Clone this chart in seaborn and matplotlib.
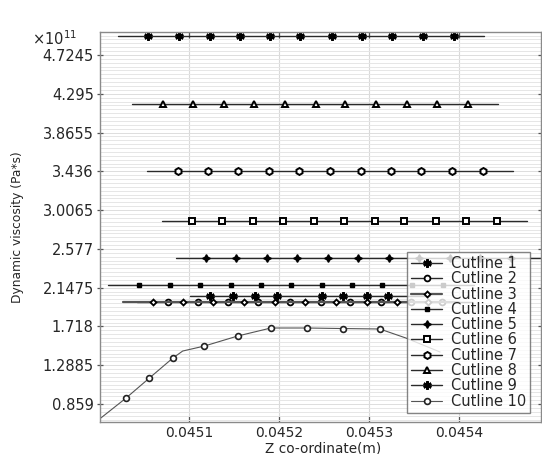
import numpy as np
import pandas as pd
import matplotlib
matplotlib.use("Agg")
import matplotlib.pyplot as plt
import seaborn as sns
from matplotlib.ticker import FixedLocator, MultipleLocator

# ---------------- data (x in m, y in 1e11 Pa*s) ----------------
labels = ["Cutline 1", "Cutline 2", "Cutline 3", "Cutline 4", "Cutline 5",
          "Cutline 6", "Cutline 7", "Cutline 8", "Cutline 9", "Cutline 10"]

c1_x = [0.045101, 0.045123, 0.045149, 0.045173, 0.045198, 0.045248, 0.045271,
        0.045298, 0.045321, 0.045368]
c1_y = [2.058] * len(c1_x)

c2_x = [0.045042, 0.045077, 0.045110, 0.045143, 0.045177, 0.045212, 0.045247,
        0.045279, 0.045313, 0.045347, 0.045381, 0.045414]
c2_y = [1.987] * len(c2_x)

c3_x = [0.045027, 0.045060, 0.045093, 0.045127, 0.045161, 0.045196, 0.045229,
        0.045263, 0.045298, 0.045331, 0.045366, 0.045399]
c3_y = [1.990] * len(c3_x)

c4_x = [0.045010, 0.045044, 0.045079, 0.045112, 0.045147, 0.045180, 0.045213,
        0.045248, 0.045281, 0.045314, 0.045348, 0.045382, 0.045417]
c4_y = [2.180] * len(c4_x)

c5_x = [0.045086, 0.045119, 0.045152, 0.045187, 0.045220, 0.045254, 0.045288,
        0.045322, 0.045356, 0.045390, 0.045423, 0.045458, 0.045491]
c5_y = [2.476] * len(c5_x)

c6_x = [0.045070, 0.045103, 0.045137, 0.045171, 0.045204, 0.045239, 0.045272,
        0.045307, 0.045339, 0.045374, 0.045408, 0.045442, 0.045476]
c6_y = [2.889] * len(c6_x)

c7_x = [0.045053, 0.045088, 0.045121, 0.045154, 0.045189, 0.045222, 0.045257,
        0.045291, 0.045324, 0.045358, 0.045392, 0.045427, 0.045460]
c7_y = [3.443] * len(c7_x)

c8_x = [0.045037, 0.045071, 0.045104, 0.045139, 0.045172, 0.045207, 0.045241,
        0.045273, 0.045308, 0.045342, 0.045376, 0.045410, 0.045443]
c8_y = [4.181] * len(c8_x)

c9_x = [0.045021, 0.045054, 0.045089, 0.045123, 0.045157, 0.045190, 0.045223,
        0.045259, 0.045292, 0.045326, 0.045360, 0.045394, 0.045428]
c9_y = [4.934] * len(c9_x)

c10_x = [0.045002, 0.045030, 0.045056, 0.045082, 0.045093, 0.045117, 0.045154,
         0.045191, 0.045231, 0.045271, 0.045312, 0.045341, 0.045379]
c10_y = [0.704, 0.925, 1.147, 1.368, 1.446, 1.501, 1.612, 1.701, 1.701,
         1.695, 1.690, 1.590, 1.435]
c10_marked = [1, 2, 3, 5, 6, 7, 8, 9, 10]

y_ticks = [0.859, 1.2885, 1.718, 2.1475, 2.577, 3.0065, 3.436, 3.8655, 4.295, 4.7245]
y_tick_labels = ["0.859", "1.2885", "1.718", "2.1475", "2.577", "3.0065",
                 "3.436", "3.8655", "4.295", "4.7245"]
x_ticks = [0.0451, 0.0452, 0.0453, 0.0454]
x_tick_labels = ["0.0451", "0.0452", "0.0453", "0.0454"]

# ---------------- styling ----------------
sns.set_style("white")
plt.rcParams["font.family"] = ["DejaVu Sans"]
plt.rcParams["mathtext.fontset"] = "dejavusans"

fig = plt.figure(figsize=(5.42, 4.54), dpi=100)
W, H = 542, 454
ax = fig.add_axes([100 / W, (H - 422) / H, 441 / W, 390 / H])

line_col = "#2a2a2a"
series = [
    (c1_x, c1_y, dict(marker=(6, 2, 0), ms=6, mew=1.7, mfc="black", mec="black"), slice(1, -1), 1.0, line_col),
    (c2_x, c2_y, dict(marker="o", ms=4.2, mew=1.3, mfc="white", mec="black"), slice(1, -1), 1.0, line_col),
    (c3_x, c3_y, dict(marker="D", ms=3.0, mew=1.3, mfc="white", mec="black"), slice(1, -1), 1.6, "#555555"),
    (c4_x, c4_y, dict(marker="s", ms=3.5, mew=1, mfc="black", mec="black"), slice(1, -1), 1.0, line_col),
    (c5_x, c5_y, dict(marker=(4, 1, 0), ms=5.5, mew=1, mfc="black", mec="black"), slice(1, -1), 1.0, line_col),
    (c6_x, c6_y, dict(marker="s", ms=4.5, mew=1.4, mfc="white", mec="black"), slice(1, -1), 1.0, line_col),
    (c7_x, c7_y, dict(marker="h", ms=5, mew=1.4, mfc="white", mec="black"), slice(1, -1), 1.0, line_col),
    (c8_x, c8_y, dict(marker="^", ms=5, mew=1.4, mfc="white", mec="black"), slice(1, -1), 1.0, line_col),
    (c9_x, c9_y, dict(marker=(6, 2, 0), ms=6, mew=1.7, mfc="black", mec="black"), slice(1, -1), 1.0, line_col),
    (c10_x, c10_y, dict(marker="o", ms=4.2, mew=1.2, mfc="white", mec="#222222"), c10_marked, 0.8, "#555555"),
]

for (xs, ys, mk, every, lw, col), lab in zip(series, labels):
    df = pd.DataFrame({"x": xs, "y": ys})
    sns.lineplot(data=df, x="x", y="y", ax=ax, sort=False, estimator=None,
                 color=col, lw=lw, markevery=every, label=lab, **mk)

ax.set_xlim(0.0450011, 0.0454911)
ax.set_ylim(0.660, 4.979)

ax.xaxis.set_major_locator(FixedLocator(x_ticks))
ax.set_xticklabels(x_tick_labels)
ax.yaxis.set_major_locator(FixedLocator(y_ticks))
ax.set_yticklabels(y_tick_labels)
ax.yaxis.set_minor_locator(MultipleLocator(0.04295))

ax.grid(True, axis="x", which="major", color="#d9d9d9", lw=0.8)
ax.grid(True, axis="y", which="minor", color="#e6e6e6", lw=0.7)
ax.grid(True, axis="y", which="major", color="#dddddd", lw=0.7)
ax.set_axisbelow(True)

for s in ax.spines.values():
    s.set_color("#8a8a8a")
    s.set_linewidth(1.0)

ax.tick_params(axis="y", which="major", left=True, right=True, direction="inout",
               length=5, width=0.9, color="#555555", labelsize=10.5, pad=2)
ax.tick_params(axis="y", which="minor", left=False, right=False)
ax.tick_params(axis="x", which="major", bottom=True, top=True, direction="in",
               length=4, width=0.9, color="#555555", labelsize=10, pad=3)

ax.set_xlabel("Z co-ordinate(m)", fontsize=9.8)
ax.xaxis.set_label_coords(0.506, -0.050)
ax.set_ylabel("Dynamic viscosity (Pa*s)", fontsize=8.8)
ax.yaxis.set_label_coords(-0.172, 0.5)

fig.text(32 / W, 1 - 45 / H, r"$\times10^{11}$", fontsize=10.5, ha="left", va="baseline")

leg = ax.legend(loc="lower left", bbox_to_anchor=(0.696, 0.023), fontsize=10.5,
                frameon=True, fancybox=False, edgecolor="#666666",
                handlelength=2.1, handletextpad=0.6, labelspacing=0.02,
                borderpad=0.3, borderaxespad=0.0)
leg.get_frame().set_linewidth(1.0)

fig.savefig("out.png", dpi=100)
